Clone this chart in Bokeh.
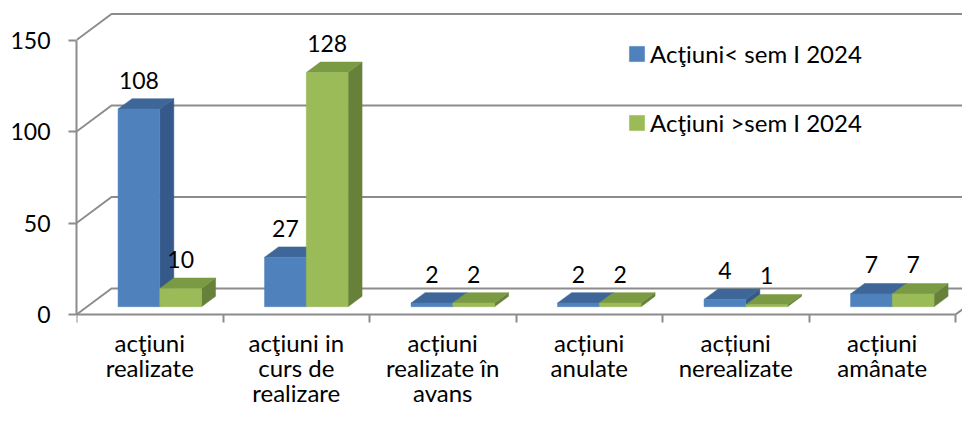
from bokeh.plotting import figure
from bokeh.models import Range1d, FixedTicker, LinearAxis, Legend, LegendItem, ColumnDataSource
from bokeh.core.properties import value
from bokeh.embed import file_html
from bokeh.resources import INLINE

# ---- data ----
categories = ["acţiuni\nrealizate", "acţiuni in\ncurs de\nrealizare", "acțiuni\nrealizate în\navans",
              "acțiuni\nanulate", "acțiuni\nnerealizate", "acțiuni\namânate"]
series_names = ["Acţiuni< sem I 2024", "Acţiuni >sem I 2024"]
before_sem1 = [108, 27, 2, 2, 4, 7]
after_sem1 = [10, 128, 2, 2, 1, 7]
y_ticks = [0, 50, 100, 150]

# ---- style / geometry ----
FONT = "Lato"
FS = "24px"
FS_NUM = "23px"
W, H = 962, 408
LEFT = 76
PX_X = 146.5      # px per category
PX_Y = 1.83       # px per unit
ZERO_Y = 314      # canvas px of value 0 (front plane)
DX = 35 / PX_X    # full depth shift (x)
DY = 26 / PX_Y    # full depth shift (y)
D0, D1 = 0.3, 0.7
GAP, BW = 0.212, 0.285
GRID = "#8C8C8C"
COLORS = [("#4F81BD", "#3E6698", "#35598A"), ("#9BBB59", "#7A9A43", "#67813A")]

n = len(categories)
p = figure(width=W, height=H, output_backend="svg", toolbar_location=None,
           x_range=Range1d(0, (W - LEFT) / PX_X),
           y_range=Range1d(-(H - ZERO_Y) / PX_Y, ZERO_Y / PX_Y),
           min_border_left=LEFT, min_border_right=0, min_border_top=0, min_border_bottom=0,
           x_axis_type=None, y_axis_type=None)
p.outline_line_color = None
p.background_fill_color = "white"

# walls / floor gridlines
ymax = max(y_ticks)
xs_g, ys_g = [], []
for v in y_ticks:
    xs_g.append([0, DX, n + DX])
    ys_g.append([v, v + DY, v + DY])
xs_g.append([n, n + DX])
ys_g.append([0, DY])
p.multi_line(xs=xs_g, ys=ys_g, line_color=GRID, line_width=2)

# axes
yaxis = LinearAxis(ticker=FixedTicker(ticks=y_ticks), bounds=(0, ymax),
                   axis_line_color=GRID, axis_line_width=2,
                   major_tick_line_color=GRID, major_tick_line_width=2,
                   major_tick_out=8, major_tick_in=0, minor_tick_out=0, minor_tick_in=0,
                   major_label_standoff=18, major_label_text_font=FONT,
                   major_label_text_font_size=FS_NUM, major_label_text_color="black")
p.add_layout(yaxis, "left")

xaxis = LinearAxis(ticker=FixedTicker(ticks=list(range(n + 1))), bounds=(0, n), fixed_location=0,
                   axis_line_color=GRID, axis_line_width=2,
                   major_tick_line_color=GRID, major_tick_line_width=2,
                   major_tick_out=8, major_tick_in=0, minor_tick_out=0, minor_tick_in=0,
                   major_label_overrides={i: "" for i in range(n + 1)})
p.add_layout(xaxis, "below")

# 3D bars
front_renderers = []
lab_x, lab_y, lab_t = [], [], []
for s, vals in enumerate([before_sem1, after_sem1]):
    cf, ct, cs = COLORS[s]
    fl, fr, fb, ftp = [], [], [], []
    txs, tys, sxs, sys_ = [], [], [], []
    for i, v in enumerate(vals):
        x0 = i + GAP + s * BW
        x1 = x0 + BW
        fl.append(x0 + D0 * DX); fr.append(x1 + D0 * DX)
        fb.append(D0 * DY); ftp.append(v + D0 * DY)
        txs.append([x0 + D0 * DX, x1 + D0 * DX, x1 + D1 * DX, x0 + D1 * DX])
        tys.append([v + D0 * DY, v + D0 * DY, v + D1 * DY, v + D1 * DY])
        sxs.append([x1 + D0 * DX, x1 + D1 * DX, x1 + D1 * DX, x1 + D0 * DX])
        sys_.append([D0 * DY, D1 * DY, v + D1 * DY, v + D0 * DY])
        lab_x.append((x0 + x1) / 2 + D0 * DX); lab_y.append(v + D0 * DY); lab_t.append(str(v))
    p.patches(xs=sxs, ys=sys_, fill_color=cs, line_color=cs, line_width=0.5)
    p.patches(xs=txs, ys=tys, fill_color=ct, line_color=ct, line_width=0.5)
    r = p.quad(left=fl, right=fr, bottom=fb, top=ftp, fill_color=cf, line_color=cf, line_width=0.5)
    front_renderers.append(r)

# value labels
p.text(x=lab_x, y=lab_y, text=lab_t, y_offset=-29, text_align="center", text_baseline="alphabetic",
       text_font=value(FONT), text_font_size=value(FS_NUM), text_color="black")

# category labels (multi-line, below the front floor edge)
cx, cy, ct_, coff = [], [], [], []
LINE0, LINE_STEP = 28, 25
for i, c in enumerate(categories):
    for j, line in enumerate(c.split("\n")):
        cx.append(i + 0.5); cy.append(0); ct_.append(line); coff.append(LINE0 + j * LINE_STEP)
src = ColumnDataSource(dict(x=cx, y=cy, text=ct_, off=coff))
p.text(x="x", y="y", text="text", y_offset="off", source=src, text_align="center",
       text_baseline="alphabetic", text_font=value(FONT), text_font_size=value(FS),
       text_color="black")

legend = Legend(items=[LegendItem(label=series_names[0], renderers=[front_renderers[0]]),
                       LegendItem(label=series_names[1], renderers=[front_renderers[1]])],
                location=(551, 271), orientation="vertical", padding=0, margin=0, spacing=40,
                glyph_width=19, glyph_height=19, label_standoff=4, label_height=26,
                label_text_font=FONT, label_text_font_size=FS, label_text_color="black",
                border_line_color=None, background_fill_alpha=0)
p.add_layout(legend)

open("out.html", "w").write(file_html(p, INLINE))
